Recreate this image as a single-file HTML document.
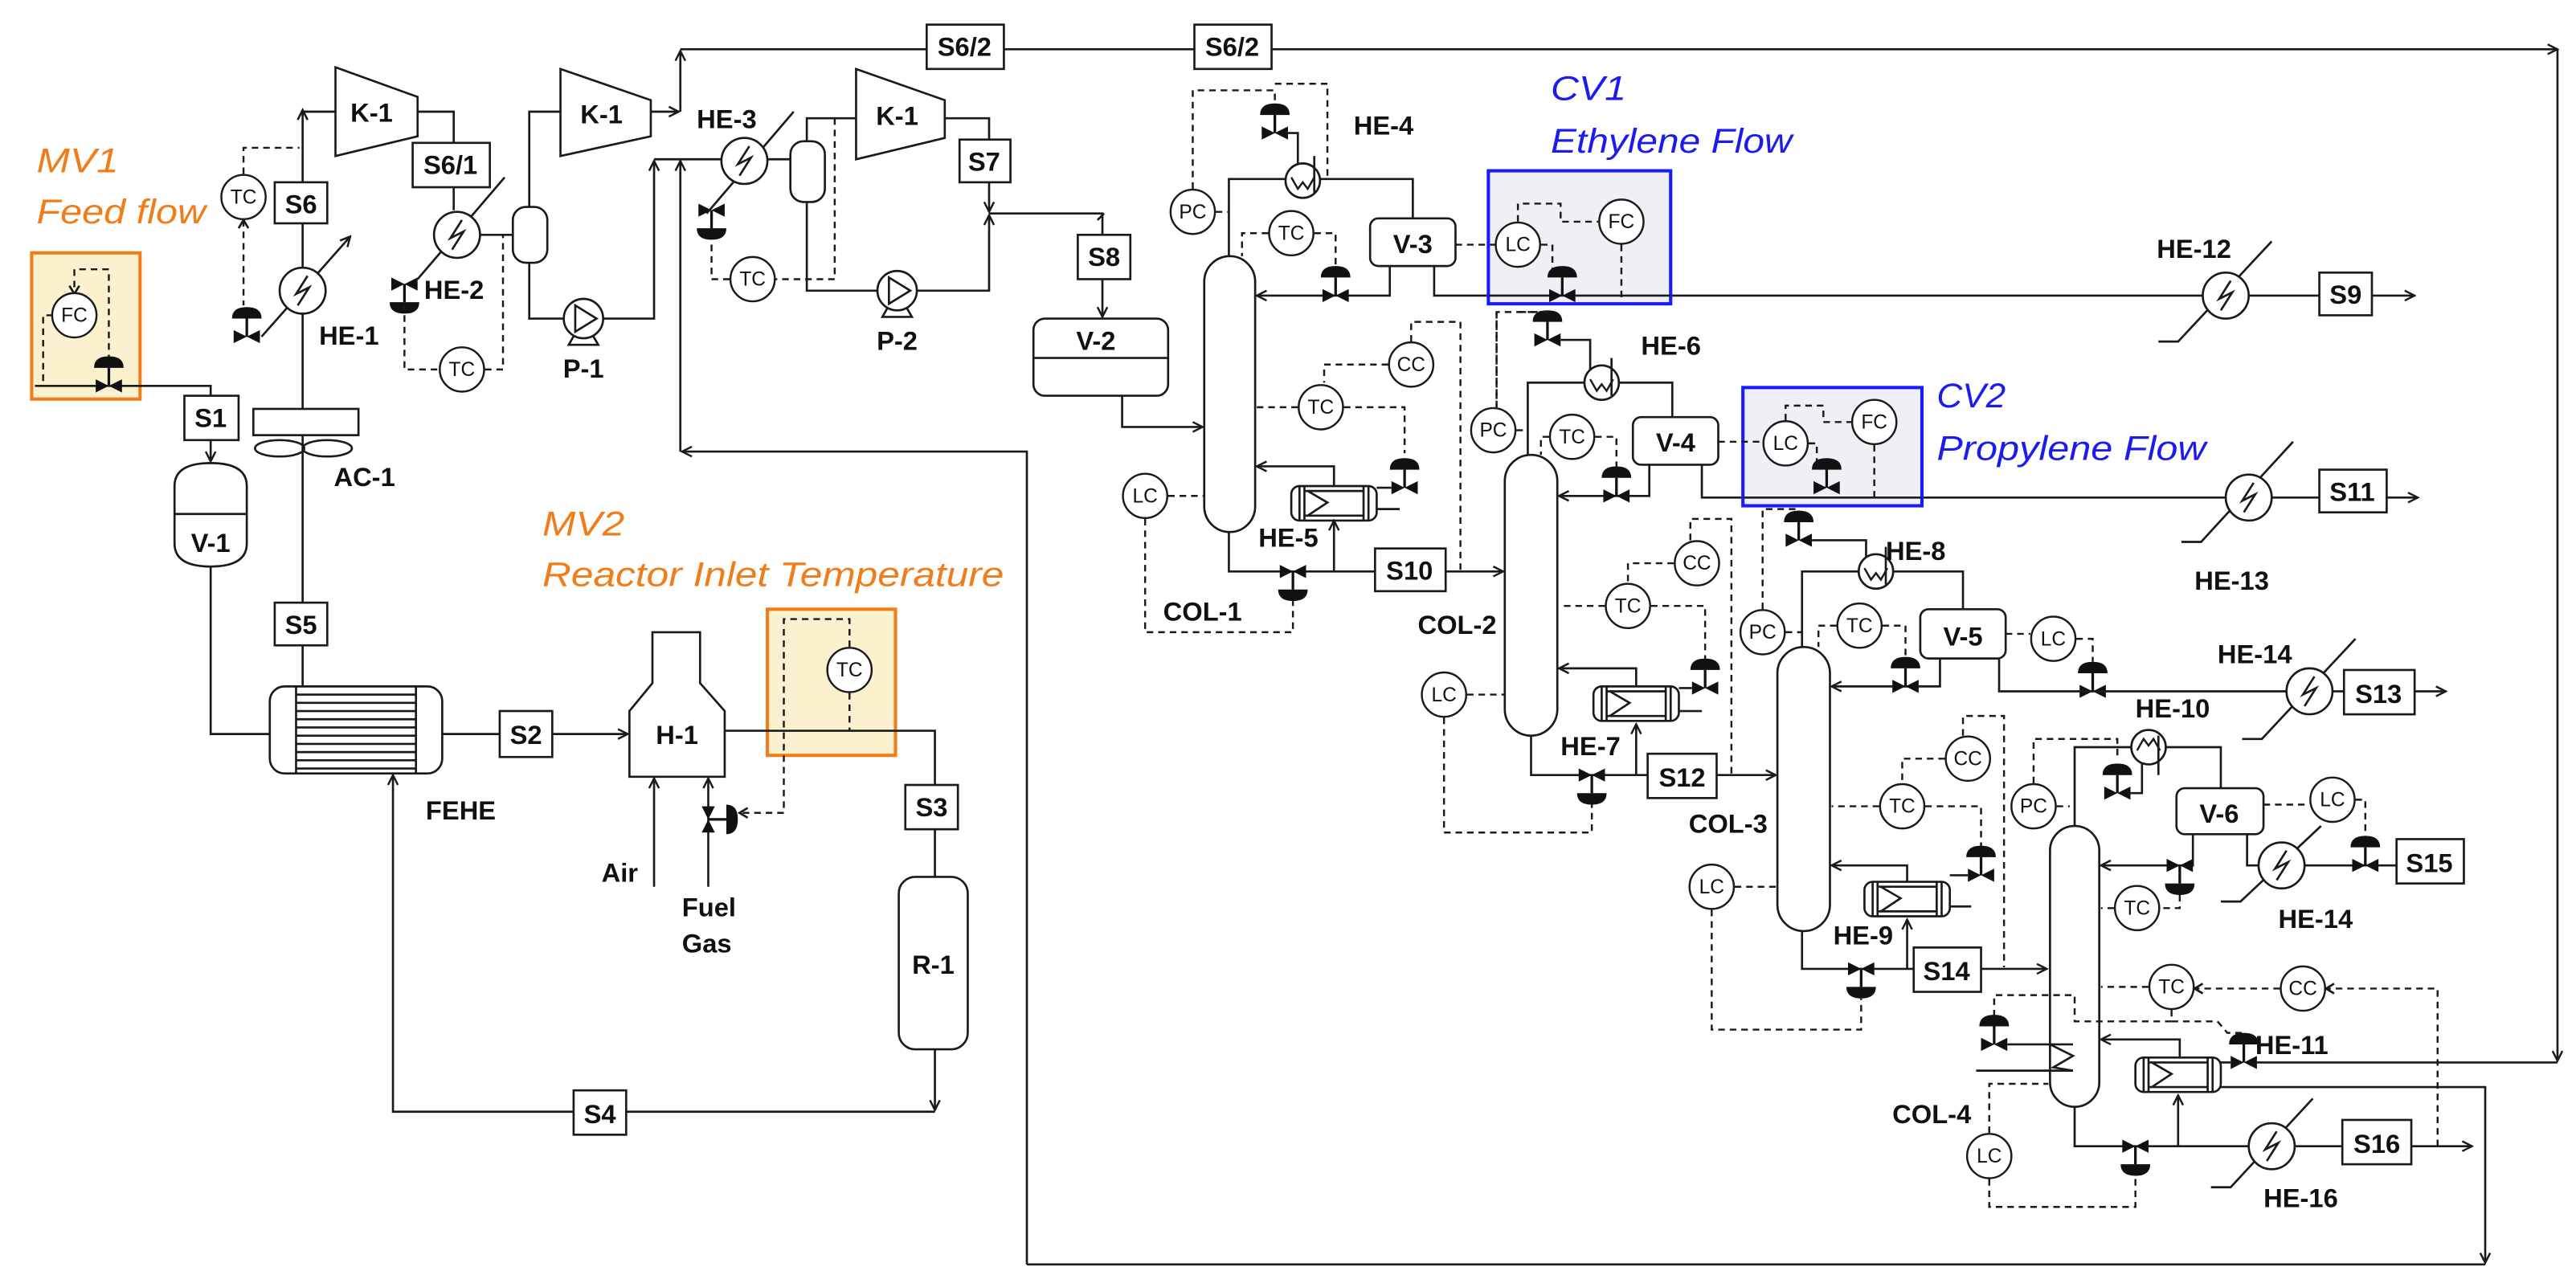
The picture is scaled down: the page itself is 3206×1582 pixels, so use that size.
<!DOCTYPE html>
<html><head><meta charset="utf-8"><style>
html,body{margin:0;padding:0;background:#fff}
svg{display:block}
.l{stroke:#1a1a1a;stroke-width:1.3;fill:none}
.d{stroke:#1a1a1a;stroke-width:1.2;fill:none;stroke-dasharray:4 3}
.w{stroke:#1a1a1a;stroke-width:1.3;fill:#fff}
.t{font-family:"Liberation Sans",sans-serif;font-weight:bold;font-size:16px;fill:#111}
.s{font-family:"Liberation Sans",sans-serif;font-weight:bold;font-size:16px;fill:#111;text-anchor:middle}
.i{font-family:"Liberation Sans",sans-serif;font-size:12px;fill:#111;text-anchor:middle}
.o{font-family:"Liberation Sans",sans-serif;font-style:italic;font-size:21px;fill:#f07d1a}
.b{font-family:"Liberation Sans",sans-serif;font-style:italic;font-size:21px;fill:#1b1bf0}
</style></head><body>
<svg width="3206" height="1582" viewBox="0 0 1568 774" xmlns="http://www.w3.org/2000/svg">
<defs>
<marker id="a" markerWidth="8" markerHeight="8" refX="7" refY="4" orient="auto" markerUnits="userSpaceOnUse"><path d="M1,1 L7,4 L1,7" fill="none" stroke="#1a1a1a" stroke-width="1.2"/></marker>
<g id="vu"><path d="M-8,-4 L8,4 L8,-4 L-8,4Z" fill="#111"/><line x1="0" y1="0" x2="0" y2="-11" stroke="#111" stroke-width="1.6"/><path d="M-9,-11 Q-9,-18 0,-18 Q9,-18 9,-11Z" fill="#111"/></g>
<g id="ic"><circle r="13.5" fill="#fff" stroke="#1a1a1a" stroke-width="1.2"/></g>
<g id="hx"><circle r="14" fill="#fff" stroke="#1a1a1a" stroke-width="1.3"/><path d="M3,-9 L-4,2 L4,-2 L-3,9" fill="none" stroke="#1a1a1a" stroke-width="1.3"/></g>
<g id="cd"><circle r="10.5" fill="#fff" stroke="#1a1a1a" stroke-width="1.3"/><path d="M-7,-2 L-3,5 L0,1 L3,5 L7,-2" fill="none" stroke="#1a1a1a" stroke-width="1.2"/></g>
<g id="rb"><rect x="0" y="0" width="52" height="21" rx="5" fill="#fff" stroke="#1a1a1a" stroke-width="1.3"/><line x1="5" y1="0" x2="5" y2="21" class="l"/><line x1="8" y1="0" x2="8" y2="21" class="l"/><line x1="44" y1="0" x2="44" y2="21" class="l"/><line x1="47" y1="0" x2="47" y2="21" class="l"/><path d="M10,3 L22,10 L10,18" class="l"/><line x1="8" y1="3" x2="44" y2="3" class="l"/><line x1="8" y1="18" x2="44" y2="18" class="l"/></g>
<g id="pp"><path d="M-9,16 L-5,9 L5,9 L9,16Z" class="w"/><circle r="12" fill="#fff" stroke="#1a1a1a" stroke-width="1.3"/><path d="M-5,-8 L8,0 L-5,8Z" class="l"/></g>
</defs>

<!-- MV1 -->
<text class="o" x="22" y="105" textLength="50" lengthAdjust="spacingAndGlyphs">MV1</text>
<text class="o" x="22" y="136" textLength="103" lengthAdjust="spacingAndGlyphs">Feed flow</text>
<rect x="19" y="154" width="66" height="89" fill="#fcf1cf" stroke="#f07d1a" stroke-width="2"/>
<path class="d" d="M66,220 V164 H45 V178"/><path d="M42,174 L45,179 L48,174" class="l"/>
<path class="d" d="M32,192 H26 V234"/>
<use href="#ic" x="45" y="192"/><text class="i" x="45" y="196">FC</text>
<path class="l" d="M21,235 H128 V241"/>
<use href="#vu" x="66" y="235"/>
<rect x="112" y="241" width="33" height="27" class="w"/><text class="s" x="128" y="260">S1</text>
<path class="l" d="M128,268 V281" marker-end="url(#a)"/>
<path d="M106,296 Q106,282 128,282 Q150,282 150,296 V331 Q150,345 128,345 Q106,345 106,331Z" class="w"/>
<line x1="106" y1="313" x2="150" y2="313" class="l"/>
<text class="s" x="128" y="336">V-1</text>
<path class="l" d="M128,345 V447 H164"/>

<!-- FEHE -->
<rect x="164" y="418" width="105" height="53" rx="9" class="w"/>
<line x1="180" y1="418" x2="180" y2="471" class="l"/><line x1="253" y1="418" x2="253" y2="471" class="l"/>
<g class="l"><path d="M180,423H253M180,428H253M180,433H253M180,438H253M180,443H253M180,448H253M180,453H253M180,458H253M180,463H253M180,468H253"/></g>
<text class="t" x="259" y="499">FEHE</text>
<path class="l" d="M269,447 H304"/>
<rect x="304" y="433" width="32" height="28" class="w"/><text class="s" x="320" y="453">S2</text>
<path class="l" d="M336,447 H382" marker-end="url(#a)"/>

<!-- FEHE up -->
<path class="l" d="M184,418 V393"/>
<rect x="167" y="367" width="32" height="26" class="w"/><text class="s" x="183" y="386">S5</text>
<path class="l" d="M184,367 V265"/>
<ellipse cx="170" cy="273" rx="15" ry="5" class="l"/><ellipse cx="199" cy="273" rx="15" ry="5" class="l"/>
<rect x="154" y="249" width="64" height="16" class="w"/>
<text class="t" x="203" y="296">AC-1</text>
<path class="l" d="M184,249 V136"/>
<path class="l" d="M159,205 L213,144" marker-end="url(#a)"/>
<use href="#hx" x="184" y="177"/>
<text class="t" x="194" y="210">HE-1</text>
<use href="#vu" x="150" y="205"/>
<rect x="167" y="111" width="32" height="25" class="w"/><text class="s" x="183" y="130">S6</text>
<path class="l" d="M184,111 V68 H204" />
<path d="M181,73 L184,67 L187,73" class="l"/>
<use href="#ic" x="148" y="120"/><text class="i" x="148" y="124">TC</text>
<path class="d" d="M148,106 V90 H182"/>
<path class="d" d="M148,134 V186"/>
<path d="M145,139 L148,134 L151,139" class="l"/>

<!-- K-1 first -->
<path d="M204,41 L254,59 L254,83 L204,95Z" class="w"/><text class="s" x="226" y="74">K-1</text>
<path class="l" d="M254,68 H276 V87"/>
<rect x="251" y="87" width="47" height="27" class="w"/><text class="s" x="274" y="106">S6/1</text>
<path class="l" d="M276,114 V128"/>
<path class="l" d="M254,170 L307,108"/>
<use href="#hx" x="278" y="143"/>
<use href="#vu" x="246" y="173" transform="translate(492,346) scale(-1,-1)"/>
<text class="t" x="258" y="182">HE-2</text>
<path class="l" d="M292,143 H312"/>
<rect x="312" y="126" width="21" height="34" rx="8" class="w"/>
<use href="#ic" x="281" y="225"/><text class="i" x="281" y="229">TC</text>
<path class="d" d="M246,185 V225 H267"/><path class="d" d="M295,225 H306 V143"/>
<path class="l" d="M322,126 V68 H341"/>
<path class="l" d="M322,160 V194 H343"/>
<use href="#pp" x="355" y="194"/>
<text class="s" x="355" y="230">P-1</text>
<path class="l" d="M367,194 H398 V98" marker-end="url(#a)"/>

<!-- K-1 second -->
<path d="M341,42 L396,61 L396,83 L341,95Z" class="w"/><text class="s" x="366" y="75">K-1</text>
<path class="l" d="M396,68 H413" marker-end="url(#a)"/>
<path class="l" d="M414,68 V31" marker-end="url(#a)"/>
<path class="l" d="M414,30 H1557" marker-end="url(#a)"/>
<rect x="564" y="15" width="47" height="27" class="w"/><text class="s" x="587" y="34">S6/2</text>
<rect x="727" y="15" width="47" height="27" class="w"/><text class="s" x="750" y="34">S6/2</text>
<path class="l" d="M1557,30 V646" marker-end="url(#a)"/>

<!-- HE-3 section -->
<path class="l" d="M398,97 H481"/>
<path class="l" d="M414,275 V98" marker-end="url(#a)"/>
<path class="l" d="M625,770 V275 H415" marker-end="url(#a)"/>
<path class="l" d="M430,130 L483,68"/>
<use href="#hx" x="453" y="98"/>
<text class="t" x="424" y="78">HE-3</text>
<use href="#vu" x="0" y="0" transform="translate(433,128) scale(1,-1)"/>
<rect x="481" y="86" width="21" height="37" rx="8" class="w"/>
<path class="l" d="M491,86 V72 H521"/>
<path class="l" d="M491,123 V177 H534"/>
<path class="d" d="M508,72 V170 H472"/>
<use href="#ic" x="458" y="170"/><text class="i" x="458" y="174">TC</text>
<path class="d" d="M444,170 H433 V146"/>
<use href="#pp" x="546" y="177"/>
<text class="s" x="546" y="213">P-2</text>
<path class="l" d="M558,177 H602 V131" marker-end="url(#a)"/>
<path d="M521,42 L575,61 L575,84 L521,97Z" class="w"/><text class="s" x="546" y="76">K-1</text>
<path class="l" d="M575,72 H602 V85"/>
<rect x="584" y="85" width="31" height="26" class="w"/><text class="s" x="599" y="104">S7</text>
<path class="l" d="M602,111 V129" marker-end="url(#a)"/>
<path class="l" d="M602,130 H671 V143"/>
<path d="M668,134 L672,130" class="l"/>
<rect x="656" y="143" width="32" height="27" class="w"/><text class="s" x="672" y="162">S8</text>
<path class="l" d="M671,170 V193" marker-end="url(#a)"/>
<rect x="629" y="194" width="82" height="47" rx="7" class="w"/>
<line x1="629" y1="218" x2="711" y2="218" class="l"/>
<text class="s" x="667" y="213">V-2</text>
<path class="l" d="M683,241 V260 H732" marker-end="url(#a)"/>

<!-- H-1 / R-1 -->
<path d="M383,473 L383,433 L397,416 L397,385 L426,385 L426,416 L441,433 L441,473Z" class="w"/>
<text class="s" x="412" y="453">H-1</text>
<path class="l" d="M398,540 V474" marker-end="url(#a)"/>
<text class="t" x="366" y="537">Air</text>
<path class="l" d="M431,540 V474" marker-end="url(#a)"/>
<use href="#vu" x="0" y="0" transform="translate(431,499) rotate(90)"/>
<text class="t" x="415" y="558">Fuel</text><text class="t" x="415" y="580">Gas</text>
<rect x="467" y="371" width="78" height="89" fill="#fcf1cf" stroke="#f07d1a" stroke-width="2"/>
<path class="l" d="M441,445 H569 V478"/>
<path class="d" d="M517,422 V445"/>
<use href="#ic" x="517" y="408"/><text class="i" x="517" y="412">TC</text>
<path class="d" d="M517,394 V377 H477 V495 H450"/><path d="M455,492 L450,495 L455,498" class="l"/>
<text class="o" x="330" y="326" textLength="50" lengthAdjust="spacingAndGlyphs">MV2</text>
<text class="o" x="330" y="357" textLength="281" lengthAdjust="spacingAndGlyphs">Reactor Inlet Temperature</text>
<rect x="551" y="478" width="32" height="27" class="w"/><text class="s" x="567" y="497">S3</text>
<path class="l" d="M569,505 V534"/>
<rect x="547" y="534" width="42" height="105" rx="10" class="w"/>
<text class="s" x="568" y="593">R-1</text>
<path class="l" d="M569,639 V676" marker-end="url(#a)"/>
<path class="l" d="M569,677 H239 V472" marker-end="url(#a)"/>
<rect x="349" y="664" width="32" height="27" class="w"/><text class="s" x="365" y="684">S4</text>

<!-- COL-1 -->
<rect x="733" y="156" width="31" height="168" rx="15.5" class="w"/>
<text class="s" x="732" y="378">COL-1</text>
<use href="#ic" x="726" y="129"/><text class="i" x="726" y="133">PC</text>
<path class="d" d="M740,129 H748"/>
<path class="d" d="M726,115 V55 H776 V64"/>
<path class="d" d="M776,51 H808 V109 H835"/>
<path class="l" d="M748,156 V109 H860 V133"/>
<use href="#vu" x="776" y="81"/>
<path class="l" d="M784,81 H790 V101"/>
<use href="#cd" x="793" y="110"/>
<line x1="800" y1="95" x2="800" y2="118" class="l"/>
<text class="t" x="824" y="82">HE-4</text>
<rect x="834" y="133" width="52" height="29" rx="5" class="w"/><text class="s" x="860" y="154">V-3</text>
<use href="#ic" x="786" y="142"/><text class="i" x="786" y="146">TC</text>
<path class="d" d="M772,142 H756 V156"/><path class="d" d="M800,142 H813 V162"/>
<path class="l" d="M846,162 V180 H765" marker-end="url(#a)"/>
<use href="#vu" x="813" y="180"/>
<path class="l" d="M873,162 V180 H1341"/>
<path class="l" d="M1369,180 H1412"/>
<path class="l" d="M1444,180 H1470" marker-end="url(#a)"/>
<path class="l" d="M1314,208 H1326 L1383,147" />
<use href="#hx" x="1355" y="180"/>
<text class="t" x="1313" y="157">HE-12</text>
<rect x="1412" y="166" width="32" height="26" class="w"/><text class="s" x="1428" y="185">S9</text>
<!-- CV1 -->
<rect x="906" y="104" width="111" height="81" fill="#eef0f6" stroke="#1a1aff" stroke-width="2"/>
<path class="l" d="M906,180 H1017"/>
<path class="d" d="M886,149 H910"/>
<path class="d" d="M924,135 V124 H950 V135 H973"/>
<path class="d" d="M938,149 H945 V164"/>
<path class="d" d="M987,149 V182"/>
<use href="#ic" x="924" y="149"/><text class="i" x="924" y="153">LC</text>
<use href="#ic" x="987" y="135"/><text class="i" x="987" y="139">FC</text>
<use href="#vu" x="951" y="180"/>
<text class="b" x="944" y="61" textLength="46" lengthAdjust="spacingAndGlyphs">CV1</text>
<text class="b" x="944" y="93" textLength="147" lengthAdjust="spacingAndGlyphs">Ethylene Flow</text>
<!-- COL-1 lower -->
<use href="#ic" x="859" y="222"/><text class="i" x="859" y="226">CC</text>
<use href="#ic" x="804" y="248"/><text class="i" x="804" y="252">TC</text>
<path class="d" d="M859,208 V196 H889 V347"/>
<path class="d" d="M845,222 H806 V233"/>
<path class="d" d="M790,248 H765"/><path class="d" d="M818,248 H855 V276"/>
<use href="#vu" x="855" y="297"/>
<use href="#rb" x="786" y="296"/>
<path class="l" d="M838,297 H847"/><path class="l" d="M838,310 H852"/>
<path class="l" d="M812,296 V284 H765" marker-end="url(#a)"/>
<text class="t" x="766" y="333">HE-5</text>
<use href="#ic" x="697" y="302"/><text class="i" x="697" y="306">LC</text>
<path class="d" d="M711,302 H733"/>
<path class="d" d="M697,316 V385 H787 V366"/>
<path class="l" d="M748,324 V348 H837"/>
<path class="l" d="M812,348 V317" marker-end="url(#a)"/>
<use href="#vu" x="0" y="0" transform="translate(787,348) scale(1,-1)"/>
<rect x="837" y="334" width="43" height="26" class="w"/><text class="s" x="858" y="353">S10</text>
<path class="l" d="M880,348 H915" marker-end="url(#a)"/>

<!-- COL-2 -->
<rect x="916" y="277" width="32" height="171" rx="16" class="w"/>
<text class="s" x="887" y="386">COL-2</text>
<path class="d" d="M911,248 V190 H943 V190"/>
<path class="d" d="M911,190 V248"/>
<use href="#ic" x="909" y="262"/><text class="i" x="909" y="266">PC</text>
<path class="d" d="M923,262 H930"/>
<use href="#vu" x="942" y="207"/>
<path class="l" d="M950,207 H968 V225"/>
<path class="l" d="M930,277 V233 H1018 V254"/>
<use href="#cd" x="975" y="233"/>
<line x1="981" y1="218" x2="981" y2="241" class="l"/>
<text class="t" x="999" y="216">HE-6</text>
<rect x="994" y="254" width="52" height="29" rx="5" class="w"/><text class="s" x="1020" y="275">V-4</text>
<use href="#ic" x="957" y="266"/><text class="i" x="957" y="270">TC</text>
<path class="d" d="M943,266 H938 V277"/><path class="d" d="M971,266 H984 V285"/>
<path class="l" d="M1004,283 V302 H949" marker-end="url(#a)"/>
<use href="#vu" x="984" y="302"/>
<path class="l" d="M1036,283 V303 H1364"/>
<path class="l" d="M1383,303 H1412"/>
<path class="l" d="M1453,303 H1472" marker-end="url(#a)"/>
<path class="l" d="M1328,330 H1340 L1396,269"/>
<use href="#hx" x="1369" y="303"/>
<rect x="1412" y="286" width="41" height="26" class="w"/><text class="s" x="1432" y="305">S11</text>
<text class="t" x="1336" y="359">HE-13</text>
<!-- CV2 -->
<rect x="1061" y="236" width="109" height="72" fill="#eef0f6" stroke="#1a1aff" stroke-width="2"/>
<path class="l" d="M1061,303 H1170"/>
<path class="d" d="M1046,269 H1073"/>
<path class="d" d="M1087,256 V247 H1110 V257 H1127"/>
<path class="d" d="M1101,270 H1106 V281"/>
<path class="d" d="M1141,271 V303"/>
<use href="#ic" x="1087" y="270"/><text class="i" x="1087" y="274">LC</text>
<use href="#ic" x="1141" y="257"/><text class="i" x="1141" y="261">FC</text>
<use href="#vu" x="1112" y="297"/>
<text class="b" x="1179" y="248" textLength="42" lengthAdjust="spacingAndGlyphs">CV2</text>
<text class="b" x="1179" y="280" textLength="164" lengthAdjust="spacingAndGlyphs">Propylene Flow</text>
<path class="d" d="M925,190 H943 V193"/>
<!-- COL-2 lower -->
<use href="#ic" x="1033" y="343"/><text class="i" x="1033" y="347">CC</text>
<use href="#ic" x="991" y="369"/><text class="i" x="991" y="373">TC</text>
<path class="d" d="M1029,329 V316 H1054 V471"/>
<path class="d" d="M1019,343 H991 V354"/>
<path class="d" d="M977,369 H949"/><path class="d" d="M1005,369 H1038 V402"/>
<use href="#vu" x="1038" y="419"/>
<use href="#rb" x="970" y="418"/>
<path class="l" d="M1022,419 H1030"/><path class="l" d="M1022,433 H1036"/>
<path class="l" d="M996,418 V407 H949" marker-end="url(#a)"/>
<text class="t" x="950" y="460">HE-7</text>
<use href="#ic" x="879" y="423"/><text class="i" x="879" y="427">LC</text>
<path class="d" d="M893,423 H916"/>
<path class="d" d="M879,437 V507 H969 V490"/>
<path class="l" d="M932,448 V472 H1003"/>
<path class="l" d="M996,472 V441" marker-end="url(#a)"/>
<use href="#vu" x="0" y="0" transform="translate(969,472) scale(1,-1)"/>
<rect x="1003" y="459" width="42" height="27" class="w"/><text class="s" x="1024" y="479">S12</text>
<path class="l" d="M1045,472 H1081" marker-end="url(#a)"/>

<!-- COL-3 -->
<rect x="1082" y="394" width="32" height="173" rx="16" class="w"/>
<text class="s" x="1052" y="507">COL-3</text>
<path class="d" d="M1073,371 V310 H1095 V312"/>
<use href="#ic" x="1073" y="385"/><text class="i" x="1073" y="389">PC</text>
<path class="d" d="M1087,385 H1097"/>
<use href="#vu" x="1095" y="329"/>
<path class="l" d="M1103,329 H1136 V340"/>
<path class="l" d="M1097,394 V348 H1195 V371"/>
<use href="#cd" x="1142" y="348"/>
<line x1="1148" y1="333" x2="1148" y2="356" class="l"/>
<text class="t" x="1148" y="341">HE-8</text>
<rect x="1169" y="371" width="52" height="30" rx="5" class="w"/><text class="s" x="1195" y="393">V-5</text>
<use href="#ic" x="1132" y="381"/><text class="i" x="1132" y="385">TC</text>
<path class="d" d="M1118,381 H1107 V394"/><path class="d" d="M1146,381 H1160 V401"/>
<path class="l" d="M1181,401 V418 H1115" marker-end="url(#a)"/>
<use href="#vu" x="1160" y="418"/>
<path class="d" d="M1221,386 H1236"/>
<use href="#ic" x="1250" y="389"/><text class="i" x="1250" y="393">LC</text>
<path class="d" d="M1264,389 H1274 V403"/>
<use href="#vu" x="1274" y="421"/>
<path class="l" d="M1217,401 V421 H1392"/>
<path class="l" d="M1420,421 H1427"/>
<path class="l" d="M1470,421 H1489" marker-end="url(#a)"/>
<path class="l" d="M1365,450 H1377 L1434,389"/>
<use href="#hx" x="1406" y="421"/>
<rect x="1427" y="408" width="43" height="27" class="w"/><text class="s" x="1448" y="428">S13</text>
<text class="t" x="1350" y="404">HE-14</text>
<use href="#ic" x="1198" y="462"/><text class="i" x="1198" y="466">CC</text>
<use href="#ic" x="1158" y="491"/><text class="i" x="1158" y="495">TC</text>
<path class="d" d="M1195,448 V436 H1220 V589"/>
<path class="d" d="M1184,462 H1158 V477"/>
<path class="d" d="M1144,491 H1115"/><path class="d" d="M1172,491 H1206 V516"/>
<use href="#vu" x="1206" y="533"/>
<use href="#rb" x="1135" y="537"/>
<path class="l" d="M1187,533 H1198"/><path class="l" d="M1187,552 H1200"/>
<path class="l" d="M1161,537 V527 H1115" marker-end="url(#a)"/>
<text class="t" x="1116" y="575">HE-9</text>
<use href="#ic" x="1042" y="540"/><text class="i" x="1042" y="544">LC</text>
<path class="d" d="M1056,540 H1082"/>
<path class="d" d="M1042,554 V627 H1133 V608"/>
<path class="l" d="M1097,567 V590 H1165"/>
<path class="l" d="M1161,590 V560" marker-end="url(#a)"/>
<use href="#vu" x="0" y="0" transform="translate(1133,590) scale(1,-1)"/>
<rect x="1165" y="577" width="41" height="27" class="w"/><text class="s" x="1185" y="597">S14</text>
<path class="l" d="M1206,590 H1246" marker-end="url(#a)"/>

<!-- COL-4 -->
<rect x="1248" y="503" width="30" height="171" rx="15" class="w"/>
<text class="s" x="1176" y="684">COL-4</text>
<use href="#ic" x="1238" y="491"/><text class="i" x="1238" y="495">PC</text>
<path class="d" d="M1238,477 V450 H1289 V463"/>
<path class="d" d="M1252,491 H1260"/>
<use href="#vu" x="1289" y="483"/>
<path class="l" d="M1297,483 H1304 V462"/>
<path class="l" d="M1263,503 H1263 V455 H1352 V480"/>
<use href="#cd" x="1308" y="455" transform="translate(2616,910) scale(-1,-1)"/>
<line x1="1314" y1="448" x2="1314" y2="472" class="l"/>
<text class="t" x="1300" y="437">HE-10</text>
<rect x="1325" y="480" width="53" height="28" rx="5" class="w"/><text class="s" x="1351" y="501">V-6</text>
<path class="l" d="M1335,508 V527 H1279" marker-end="url(#a)"/>
<use href="#vu" x="0" y="0" transform="translate(1327,527) scale(1,-1)"/>
<use href="#ic" x="1301" y="553"/><text class="i" x="1301" y="557">TC</text>
<path class="d" d="M1287,553 H1279"/><path class="d" d="M1327,545 V553 H1316"/>
<path class="d" d="M1378,490 H1406"/>
<use href="#ic" x="1420" y="487"/><text class="i" x="1420" y="491">LC</text>
<path class="d" d="M1434,487 H1440 V510"/>
<path class="l" d="M1368,508 V527 H1376"/>
<path class="l" d="M1402,527 H1459"/>
<use href="#vu" x="1440" y="527"/>
<path class="l" d="M1352,549 H1364 L1413,503"/>
<use href="#hx" x="1389" y="527"/>
<rect x="1459" y="511" width="41" height="27" class="w"/><text class="s" x="1479" y="531">S15</text>
<text class="t" x="1387" y="565">HE-14</text>
<use href="#ic" x="1322" y="601"/><text class="i" x="1322" y="605">TC</text>
<use href="#ic" x="1402" y="602"/><text class="i" x="1402" y="606">CC</text>
<path class="d" d="M1308,601 H1279"/>
<path class="d" d="M1388,602 H1337"/><path d="M1341,599 L1336,602 L1341,605" class="l"/>
<path class="d" d="M1484,698 V602 H1417"/><path d="M1421,599 L1416,602 L1421,605" class="l"/>
<path class="d" d="M1322,615 V622 H1263 V606 H1214 V620"/>
<path class="d" d="M1322,622 H1350 L1356,629 H1366"/>
<use href="#vu" x="1214" y="636"/>
<path class="l" d="M1222,636 H1262"/>
<path class="l" d="M1248,636 L1262,643 L1250,650 L1262,652" />
<path class="l" d="M1203,652 H1262"/>
<use href="#rb" x="1300" y="644"/>
<path class="l" d="M1327,644 V633 H1279" marker-end="url(#a)"/>
<use href="#vu" x="1366" y="647"/>
<path class="l" d="M1352,647 H1358"/><path class="l" d="M1374,647 H1557"/>
<text class="t" x="1373" y="642">HE-11</text>
<path class="l" d="M1352,662 H1513 V769" marker-end="url(#a)"/>
<path class="l" d="M1513,770 H625"/>
<use href="#ic" x="1211" y="704"/><text class="i" x="1211" y="708">LC</text>
<path class="d" d="M1211,690 V660 H1247"/>
<path class="d" d="M1211,718 V735 H1300 V716"/>
<path class="l" d="M1263,674 V698 H1369"/>
<use href="#vu" x="0" y="0" transform="translate(1300,698) scale(1,-1)"/>
<path class="l" d="M1326,698 V667" marker-end="url(#a)"/>
<path class="l" d="M1397,698 H1426"/>
<path class="l" d="M1468,698 H1505" marker-end="url(#a)"/>
<path class="l" d="M1346,723 H1358 L1408,669"/>
<use href="#hx" x="1383" y="698"/>
<rect x="1426" y="682" width="42" height="27" class="w"/><text class="s" x="1447" y="702">S16</text>
<text class="t" x="1378" y="735">HE-16</text>
</svg>
</body></html>
